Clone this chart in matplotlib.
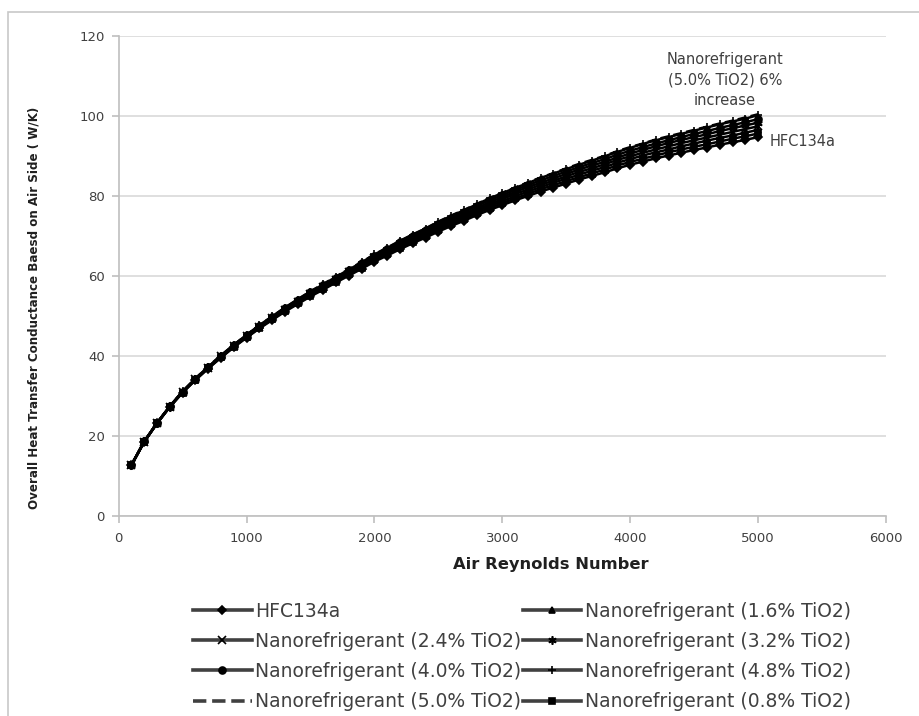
import matplotlib
matplotlib.use('Agg')
import matplotlib.pyplot as plt
from matplotlib.lines import Line2D
from matplotlib.patches import Rectangle

plt.rcParams['font.family'] = ['DejaVu Sans']

# Air Reynolds number (every 100 from 100 to 5000)
reynolds = list(range(100, 5001, 100))

# Overall heat transfer conductance on air side (W/K)
hfc134a = [12.8, 18.6, 23.2, 27.3, 30.9, 34.0, 36.9, 39.6, 42.2, 44.6,
           46.9, 49.0, 51.1, 53.0, 54.9, 56.6, 58.4, 60.1, 61.8, 63.6,
           65.1, 66.7, 68.2, 69.6, 71.1, 72.5, 73.8, 75.2, 76.5, 77.7,
           78.9, 80.0, 81.1, 82.1, 83.1, 84.1, 85.0, 85.9, 86.9, 87.8,
           88.6, 89.4, 90.1, 90.8, 91.5, 92.1, 92.8, 93.4, 94.0, 94.7]
nano_08 = [12.8, 18.6, 23.2, 27.3, 30.9, 34.1, 37.0, 39.7, 42.3, 44.7,
           47.0, 49.2, 51.3, 53.2, 55.1, 56.8, 58.6, 60.4, 62.1, 63.9,
           65.4, 67.0, 68.6, 70.0, 71.5, 72.9, 74.2, 75.7, 77.0, 78.2,
           79.4, 80.5, 81.7, 82.7, 83.7, 84.7, 85.6, 86.6, 87.6, 88.5,
           89.3, 90.1, 90.9, 91.6, 92.3, 92.9, 93.6, 94.3, 94.9, 95.6]
nano_16 = [12.8, 18.6, 23.2, 27.4, 31.0, 34.1, 37.0, 39.8, 42.4, 44.8,
           47.2, 49.3, 51.4, 53.4, 55.3, 57.0, 58.9, 60.6, 62.3, 64.2,
           65.7, 67.4, 68.9, 70.3, 71.9, 73.3, 74.7, 76.1, 77.5, 78.7,
           79.9, 81.1, 82.2, 83.3, 84.3, 85.3, 86.3, 87.2, 88.3, 89.2,
           90.1, 90.9, 91.6, 92.4, 93.1, 93.8, 94.5, 95.1, 95.8, 96.5]
nano_24 = [12.8, 18.6, 23.3, 27.4, 31.0, 34.2, 37.1, 39.9, 42.5, 45.0,
           47.3, 49.5, 51.6, 53.6, 55.5, 57.3, 59.1, 60.9, 62.6, 64.5,
           66.0, 67.7, 69.3, 70.7, 72.3, 73.7, 75.1, 76.6, 77.9, 79.2,
           80.5, 81.6, 82.8, 83.8, 84.9, 86.0, 86.9, 87.9, 89.0, 89.9,
           90.8, 91.6, 92.4, 93.2, 93.9, 94.6, 95.3, 96.0, 96.7, 97.4]
nano_32 = [12.8, 18.7, 23.3, 27.4, 31.1, 34.2, 37.2, 40.0, 42.6, 45.1,
           47.4, 49.6, 51.8, 53.7, 55.7, 57.5, 59.3, 61.1, 62.9, 64.8,
           66.4, 68.0, 69.6, 71.1, 72.7, 74.2, 75.5, 77.0, 78.4, 79.7,
           81.0, 82.2, 83.3, 84.4, 85.5, 86.6, 87.6, 88.5, 89.6, 90.6,
           91.5, 92.4, 93.2, 94.0, 94.7, 95.4, 96.2, 96.9, 97.6, 98.3]
nano_40 = [12.8, 18.7, 23.3, 27.5, 31.1, 34.3, 37.3, 40.0, 42.7, 45.2,
           47.6, 49.8, 51.9, 53.9, 55.9, 57.7, 59.6, 61.4, 63.2, 65.1,
           66.7, 68.4, 70.0, 71.5, 73.1, 74.6, 76.0, 77.5, 78.9, 80.2,
           81.5, 82.7, 83.9, 85.0, 86.1, 87.2, 88.2, 89.2, 90.3, 91.3,
           92.2, 93.1, 93.9, 94.7, 95.5, 96.2, 97.0, 97.7, 98.4, 99.2]
nano_48 = [12.8, 18.7, 23.3, 27.5, 31.2, 34.4, 37.3, 40.1, 42.8, 45.3,
           47.7, 49.9, 52.1, 54.1, 56.1, 57.9, 59.8, 61.6, 63.4, 65.4,
           67.0, 68.7, 70.3, 71.8, 73.5, 75.0, 76.4, 77.9, 79.4, 80.7,
           82.0, 83.2, 84.5, 85.6, 86.7, 87.8, 88.8, 89.9, 91.0, 92.0,
           93.0, 93.9, 94.7, 95.5, 96.3, 97.1, 97.9, 98.6, 99.3, 100.2]
nano_50 = [12.8, 18.7, 23.3, 27.5, 31.2, 34.4, 37.4, 40.2, 42.8, 45.3,
           47.7, 49.9, 52.1, 54.2, 56.2, 58.0, 59.9, 61.7, 63.5, 65.4,
           67.1, 68.8, 70.4, 71.9, 73.6, 75.1, 76.5, 78.0, 79.5, 80.8,
           82.1, 83.4, 84.6, 85.7, 86.9, 88.0, 89.0, 90.0, 91.2, 92.2,
           93.1, 94.1, 94.9, 95.7, 96.5, 97.3, 98.1, 98.8, 99.6, 100.4]

series = [
    ('HFC134a', hfc134a, 'D', '-', 4),
    ('Nanorefrigerant (1.6% TiO2)', nano_16, '^', '-', 5),
    ('Nanorefrigerant (2.4% TiO2)', nano_24, 'x', '-', 6),
    ('Nanorefrigerant (3.2% TiO2)', nano_32, (6, 2, 0), '-', 6),
    ('Nanorefrigerant (4.0% TiO2)', nano_40, 'o', '-', 5),
    ('Nanorefrigerant (4.8% TiO2)', nano_48, '+', '-', 6),
    ('Nanorefrigerant (5.0% TiO2)', nano_50, None, '--', 0),
    ('Nanorefrigerant (0.8% TiO2)', nano_08, 's', '-', 5),
]

fig = plt.figure(figsize=(9.2, 7.16), dpi=100)
ax = fig.add_axes([0.129, 0.279, 0.834, 0.671])

# Outer chart frame (only the top and left edges fall inside the picture)
fig.patches.append(Rectangle((0.009, -0.05), 1.1, 1.033, transform=fig.transFigure,
                             fill=False, edgecolor='#c8c8c8', lw=1.2))

handles = {}
for label, vals, marker, ls, ms in series:
    ax.plot(reynolds, vals, color='black', lw=1.8, ls=ls,
            marker=marker, markersize=ms, markeredgewidth=1.2, zorder=3)
    handles[label] = Line2D([], [], color='#404040', lw=2.6, ls=ls, marker=marker,
                            markersize=ms, markerfacecolor='black',
                            markeredgecolor='black', markeredgewidth=1.2)

ax.set_xlim(0, 6000)
ax.set_ylim(0, 120)
ax.set_xticks(range(0, 6001, 1000))
ax.set_yticks(range(0, 121, 20))
ax.grid(True, axis='y', color='#d9d9d9', lw=1.2)
ax.set_axisbelow(True)
for side in ['top', 'right']:
    ax.spines[side].set_visible(False)
for side in ['left', 'bottom']:
    ax.spines[side].set_color('#bfbfbf')
    ax.spines[side].set_linewidth(1.2)
ax.tick_params(axis='both', colors='#bfbfbf', labelcolor='#404040',
               labelsize=9.5, length=5, width=1.2)
ax.tick_params(axis='y', pad=5)
ax.tick_params(axis='x', pad=6)

ax.set_xlabel('Air Reynolds Number', fontsize=11.8, fontweight='bold', color='#202020')
ax.xaxis.set_label_coords(0.563, -0.085)
ax.set_ylabel('Overall Heat Transfer Conductance Baesd on Air Side ( W/K)',
              fontsize=8.6, fontweight='bold', color='#202020')
ax.yaxis.set_label_coords(-0.102, 0.433)

ax.text(4741, 109, 'Nanorefrigerant\n(5.0% TiO2) 6%\nincrease', ha='center', va='center',
        fontsize=10.5, color='#404040', linespacing=1.45)
ax.text(5094, 93.5, 'HFC134a', ha='left', va='center', fontsize=10.5, color='#404040')

# Excel legend fills row by row; matplotlib fills column by column
order = ['HFC134a', 'Nanorefrigerant (2.4% TiO2)', 'Nanorefrigerant (4.0% TiO2)',
         'Nanorefrigerant (5.0% TiO2)', 'Nanorefrigerant (1.6% TiO2)',
         'Nanorefrigerant (3.2% TiO2)', 'Nanorefrigerant (4.8% TiO2)',
         'Nanorefrigerant (0.8% TiO2)']
fig.legend([handles[k] for k in order], order, loc='upper left',
           bbox_to_anchor=(0.2, 0.173), ncol=2, frameon=False, fontsize=13.5,
           handlelength=3.1, handletextpad=0.2, columnspacing=0.1,
           labelspacing=0.6, labelcolor='#404040', borderpad=0)

fig.savefig('out.png', dpi=100)
